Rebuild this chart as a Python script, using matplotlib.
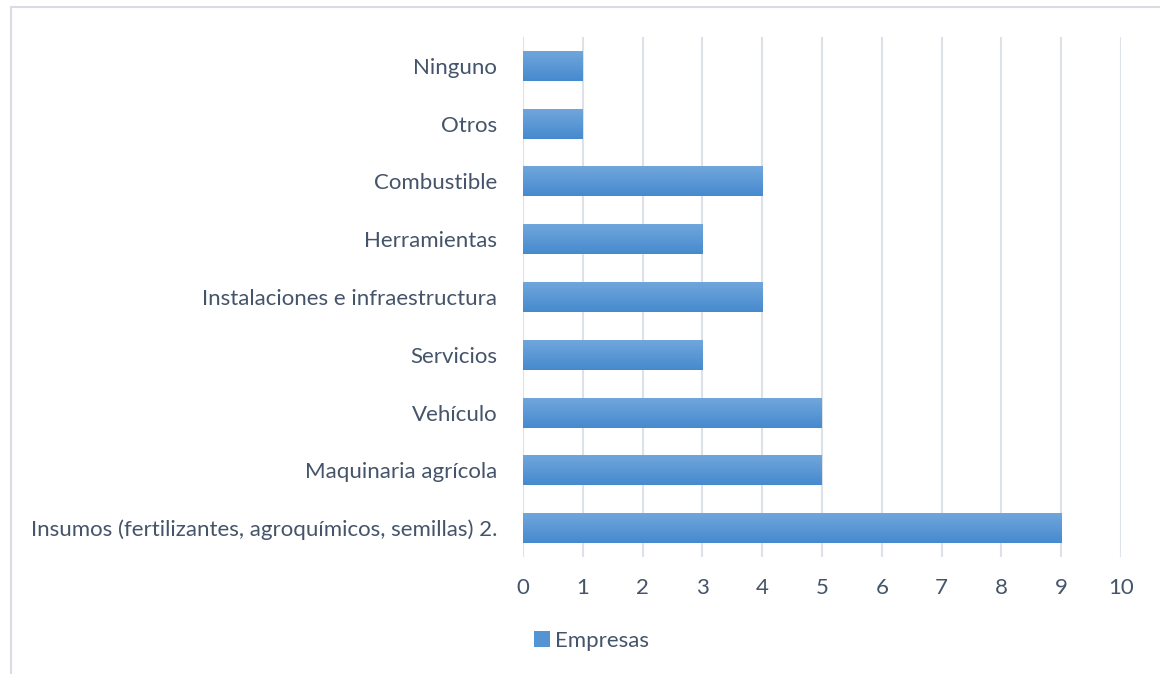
"""Horizontal bar chart: Empresas by category of investment."""

import matplotlib.pyplot as plt
import numpy as np
from matplotlib.colors import LinearSegmentedColormap
from matplotlib.patches import Rectangle

categories = [
    "Insumos (fertilizantes, agroquímicos, semillas) 2.",
    "Maquinaria agrícola",
    "Vehículo",
    "Servicios",
    "Instalaciones e infraestructura",
    "Herramientas",
    "Combustible",
    "Otros",
    "Ninguno",
]
empresas = [9, 5, 5, 3, 4, 3, 4, 1, 1]
x_ticks = list(range(0, 11))

TEXT = "#44546a"
GRID = "#dde1e8"
TOP_COLOR = "#72a7dd"
BOTTOM_COLOR = "#468ace"
FS = 16

plt.rcParams["font.family"] = ["Lato", "DejaVu Sans"]

fig = plt.figure(figsize=(11.6, 6.74), dpi=100)
ax = fig.add_axes([523 / 1160, 117 / 674, 598 / 1160, 520 / 674])

y = np.arange(len(categories))
bars = ax.barh(y, empresas, height=0.52, color="none", edgecolor="none", zorder=3)

# vertical gradient in each bar (lighter on top)
cmap = LinearSegmentedColormap.from_list("bar", [BOTTOM_COLOR, TOP_COLOR])
grad = np.linspace(0, 1, 64).reshape(-1, 1)
for b in bars:
    x0, y0 = b.get_x(), b.get_y()
    w, h = b.get_width(), b.get_height()
    im = ax.imshow(grad, cmap=cmap, aspect="auto", origin="lower",
                   extent=[x0, x0 + w, y0, y0 + h], zorder=3)
    im.set_clip_path(b)

ax.set_xlim(0, 10)
ax.set_ylim(-0.5, len(categories) - 0.5)
ax.set_xticks(x_ticks)
ax.set_yticks(y)
ax.set_yticklabels(categories)
ax.tick_params(axis="x", length=0, pad=15, labelsize=FS, labelcolor=TEXT)
ax.tick_params(axis="y", length=0, pad=18.5, labelsize=FS, labelcolor=TEXT)

ax.grid(True, axis="x", color=GRID, linewidth=1.5, zorder=0)
ax.set_axisbelow(True)
for s in ax.spines.values():
    s.set_visible(False)

# chart border (extends beyond the right and bottom edges)
fig.patches.append(Rectangle((11 / 1160, -0.05), 1.2, 1 - 7 / 674 + 0.05,
                             transform=fig.transFigure, fill=False,
                             edgecolor="#d9dde3", linewidth=1.5))

legend_handle = Rectangle((0, 0), 1, 1, facecolor="#5394d5", edgecolor="none")
fig.legend([legend_handle], ["Empresas"], loc="center left",
           bbox_to_anchor=(514 / 1160, 1 - 641 / 674), frameon=False,
           fontsize=FS, labelcolor=TEXT, handlelength=0.7, handleheight=0.7,
           handletextpad=0.25)

fig.savefig("out.png", dpi=100)
